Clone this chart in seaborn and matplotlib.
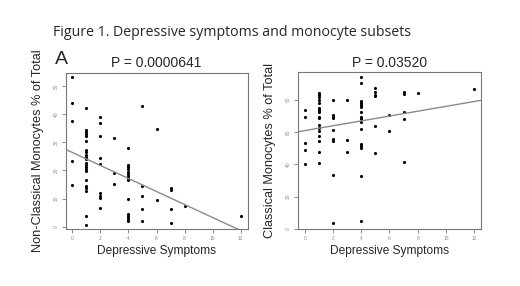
import numpy as np
import pandas as pd
import matplotlib
matplotlib.use("Agg")
import matplotlib.pyplot as plt
import seaborn as sns

# ── data ────────────────────────────────────────────────────────
# Panel A: non-classical monocytes (% of total) vs depressive symptoms
NC_X = ([0]*5 + [1]*22 + [2]*9 + [3]*3 + [4]*15 + [5]*5 + [6]*2 + [7]*4
        + [8, 12])
NC_Y = [53.1, 44.0, 37.4, 23.4, 14.9,
        42.1, 34.2, 33.6, 32.8, 32.1, 30.4, 27.3, 26.4, 25.5, 24.7, 23.9,
        22.7, 22.0, 21.4, 20.6, 19.9, 16.6, 14.4, 13.7, 12.8, 3.7, 0.8,
        39.0, 36.8, 32.1, 24.5, 22.2, 12.1, 11.1, 10.4, 6.8,
        31.6, 19.1, 15.2,
        28.0, 22.0, 21.1, 20.4, 19.6, 18.7, 17.9, 17.2, 16.6, 9.8, 4.7,
        3.9, 3.2, 2.5, 2.0,
        42.8, 14.4, 10.9, 6.3, 1.9,
        34.6, 9.4,
        13.8, 13.1, 6.3, 1.2,
        7.3, 3.7]
NC_FIT = (26.4, -2.31)      # intercept, slope
NC_P = "P = 0.0000641"

# Panel B: classical monocytes (% of total) vs depressive symptoms
CL_X = ([0]*5 + [1]*17 + [2]*9 + [3]*3 + [4]*16 + [5]*6 + [6]*2 + [7]*5
        + [8, 12])
CL_Y = [73.3, 69.1, 52.9, 48.8, 39.9,
        83.9, 82.9, 81.7, 80.0, 77.8, 74.5, 73.5, 72.4, 69.5, 68.5, 64.0,
        62.6, 60.5, 57.4, 54.3, 47.5, 40.7,
        79.8, 70.6, 69.3, 68.5, 61.3, 55.6, 54.5, 33.3, 3.5,
        79.6, 55.3, 47.3,
        93.8, 90.1, 79.4, 78.0, 76.7, 75.3, 72.4, 69.5, 67.9, 66.3, 61.7,
        52.7, 51.4, 50.0, 32.9, 4.7,
        87.0, 84.6, 83.1, 81.9, 63.4, 47.1,
        70.4, 60.3,
        84.6, 83.7, 72.4, 67.7, 41.6,
        84.2, 86.8]
CL_FIT = (60.8, 1.50)
CL_P = "P = 0.03520"

X_TICKS = [0, 2, 4, 6, 8, 10, 12]
NC_YTICKS = [0, 10, 20, 30, 40, 50]
CL_YTICKS = [0, 20, 40, 60, 80]

TITLE = "Figure 1. Depressive symptoms and monocyte subsets"
XLABEL = "Depressive Symptoms"

sns.set_theme(style="white")
plt.rcParams["font.family"] = ["Liberation Sans", "DejaVu Sans"]

fig = plt.figure(figsize=(5.2, 2.86), dpi=100)
ax1 = fig.add_axes([0.126, 0.199, 0.350, 0.546])
ax2 = fig.add_axes([0.573, 0.199, 0.352, 0.549])


def panel(ax, xs, ys, fit, ptxt, ylab, yticks, ylim):
    df = pd.DataFrame({"x": xs, "y": ys})
    sns.scatterplot(data=df, x="x", y="y", ax=ax, color="black",
                    s=5, linewidth=0, marker="o", legend=False)
    xl = np.array([-0.48, 12.48])
    ax.plot(xl, fit[0] + fit[1]*xl, color="#8a8a8a", linewidth=1.0)
    ax.set_xlim(-0.48, 12.48)
    ax.set_ylim(*ylim)
    ax.set_xticks(X_TICKS)
    ax.set_yticks(yticks)
    ax.tick_params(axis="both", direction="out", length=3, width=0.6,
                   color="#777777", labelcolor="#888888", labelsize=3.5,
                   pad=2, bottom=True, left=True)
    ax.tick_params(axis="y", labelrotation=90)
    for lab in ax.get_yticklabels():
        lab.set_va("center")
    for sp in ax.spines.values():
        sp.set_visible(True)
        sp.set_color("#777777")
        sp.set_linewidth(0.8)
    ax.set_xlabel(XLABEL, fontsize=8.6, labelpad=3)
    ax.set_ylabel(ylab, fontsize=9.2, labelpad=7)
    ax.set_title(ptxt, fontsize=10, pad=4)


panel(ax1, NC_X, NC_Y, NC_FIT, NC_P,
      "Non-Classical Monocytes % of Total", NC_YTICKS, (-0.8, 54.6))
panel(ax2, CL_X, CL_Y, CL_FIT, CL_P,
      "Classical Monocytes % of Total", CL_YTICKS, (-0.1, 97.0))

fig.text(53/520, 1 - 32/286, TITLE, fontsize=10.2, va="center", ha="left",
         family=["Open Sans", "DejaVu Sans"])
fig.text(55/520, 1 - 60/286, "A", fontsize=14, va="center", ha="left")

fig.savefig("out.png", dpi=100)
